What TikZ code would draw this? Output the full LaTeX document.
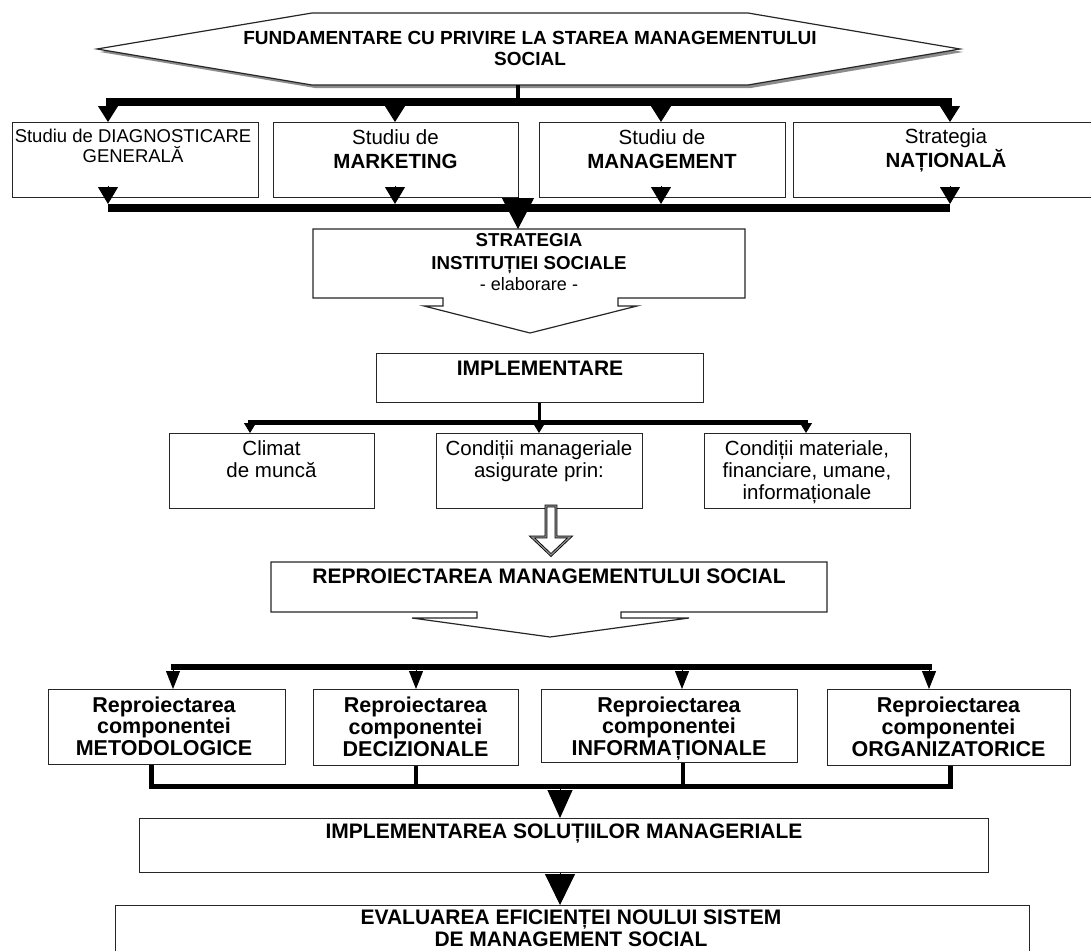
\documentclass[tikz,border=0pt]{standalone}
\usepackage{fontspec}
\setmainfont{Liberation Sans}
\usetikzlibrary{arrows.meta}
\begin{document}
\begin{tikzpicture}[x=1pt,y=-1pt,
  box/.style={draw=black!85,line width=1.2pt,fill=white,inner sep=0pt,anchor=north west},
  lbl/.style={inner sep=0pt,align=center,anchor=north},
  one/.style={inner sep=0pt,anchor=base},
  drop/.style 2 args={line width=1pt,-{Triangle[width=#1,length=#2]}},
  rail/.style={line width=#1,line cap=butt},
  outline/.style={draw=black!85,line width=1.2pt,fill=white,line join=miter},
]
\useasboundingbox (0,0) rectangle (1091,950);

% ---------- head: hexagon ----------
\fill[black!45] (100,52) -- (315,16) -- (751,16) -- (963,52) -- (751,88) -- (315,88) -- cycle;
\draw[outline] (97,49) -- (312,13) -- (748,13) -- (960,49) -- (748,85) -- (312,85) -- cycle;
\node[lbl,font=\bfseries\fontsize{19}{21}\selectfont] (fund) at (530,31)
  {FUNDAMENTARE CU PRIVIRE LA STAREA MANAGEMENTULUI\\SOCIAL};
\coordinate (fundS) at (518,85);
\coordinate (busA) at (518,102);
\coordinate (busL) at (106,102);
\coordinate (busR) at (952,102);

% ---------- row 1: studies ----------
\node[box,minimum width=246,minimum height=75] (b1) at (12,122) {};
\node[box,minimum width=245,minimum height=75] (b2) at (273,122) {};
\node[box,minimum width=246,minimum height=75] (b3) at (539,122) {};
\node[box,minimum width=306,minimum height=75] (b4) at (793,122) {};

\node[lbl,font=\fontsize{18.5}{20}\selectfont] (b1t) at (133,128.5)
  {Studiu de DIAGNOSTICARE\\GENERALĂ};
\node[lbl,font=\fontsize{20.5}{24.5}\selectfont] (b2t) at (395.5,129)
  {Studiu de\\\textbf{MARKETING}};
\node[lbl,font=\fontsize{20.5}{24.5}\selectfont] (b3t) at (662,129)
  {Studiu de\\\textbf{MANAGEMENT}};
\node[lbl,font=\fontsize{20.5}{24.5}\selectfont] (b4t) at (946,128)
  {Strategia\\\textbf{NAȚIONALĂ}};

\draw[rail=4pt] (fundS) -- (busA);
\draw[rail=8pt] (busL) -- (busR);
\foreach \x/\n in {108/b1,395/b2,661/b3,950/b4}{
  \coordinate (u\n) at (\x,102);
  \draw[drop={20pt}{16pt}] (u\n) -- (u\n |- \n.north);
}

% collecting rail under row 1
\coordinate (sumL) at (108,208);
\coordinate (sumR) at (950,208);
\draw[rail=8pt] (sumL) -- (sumR);
\foreach \x/\n in {108/b1,395/b2,661/b3,950/b4}{
  \coordinate (w\n) at (\x,186);
  \coordinate (v\n) at (\x,204);
  \draw[drop={20pt}{17pt}] (w\n) -- (v\n);
}

% ---------- strategy of the institution ----------
\draw[outline] (313,229) -- (745,229) -- (745,298) -- (618,298) -- (618,306) -- (637,306)
  -- (530,333) -- (424,306) -- (443,306) -- (443,298) -- (313,298) -- cycle;
\coordinate (stN) at (518,229);
\coordinate (sumM) at (518,197);
\draw[drop={32pt}{31pt}] (sumM) -- (stN);
\node[lbl,font=\bfseries\fontsize{18.7}{23}\selectfont] (st) at (529,233.5)
  {STRATEGIA\\INSTITUȚIEI SOCIALE};
\node[one,font=\fontsize{18}{20}\selectfont] (stel) at (529,290) {- elaborare -};

% ---------- implementation ----------
\node[box,minimum width=327,minimum height=49] (impl) at (376,353) {};
\node[one,font=\bfseries\fontsize{21}{24}\selectfont] (implt) at (540,375) {IMPLEMENTARE};

\node[box,minimum width=205,minimum height=75] (c1) at (169,433) {};
\node[box,minimum width=206,minimum height=75] (c2) at (436,433) {};
\node[box,minimum width=206,minimum height=75] (c3) at (704,433) {};
\node[lbl,font=\fontsize{20.5}{22}\selectfont] (c1t) at (271.5,440) {Climat\\de muncă};
\node[lbl,font=\fontsize{20.5}{22}\selectfont] (c2t) at (539,440) {Condiții manageriale\\asigurate prin:};
\node[lbl,font=\fontsize{20.5}{22}\selectfont] (c3t) at (807,440)
  {Condiții materiale,\\financiare, umane,\\informaționale};

\coordinate (ib) at (539,422);
\coordinate (ibL) at (248,422);
\coordinate (ibR) at (808,422);
\draw[rail=3pt] (impl.south -| ib) -- (ib);
\draw[rail=5pt] (ibL) -- (ibR);
\foreach \x/\n in {250/c1,539/c2,806/c3}{
  \coordinate (k\n) at (\x,422);
  \draw[drop={12pt}{10pt}] (k\n) -- (k\n |- \n.north);
}

% hollow block arrow
\draw[line width=0.8pt,double=black!45,double distance=1.3pt,fill=white,line join=miter]
  (546,506) -- (546,537) -- (532,537) -- (551,555) -- (570,537) -- (556,537) -- (556,506) -- cycle;

% ---------- redesign ----------
\draw[outline] (271,562) -- (827,562) -- (827,612) -- (621,612) -- (621,618) -- (689,618)
  -- (550,637) -- (412,618) -- (477,618) -- (477,612) -- (271,612) -- cycle;
\node[one,font=\bfseries\fontsize{21}{24}\selectfont] (rep) at (549,583)
  {REPROIECTAREA MANAGEMENTULUI SOCIAL};

\node[box,minimum width=237,minimum height=75] (d1) at (48,689) {};
\node[box,minimum width=205,minimum height=76] (d2) at (313,689) {};
\node[box,minimum width=256,minimum height=73] (d3) at (541,689) {};
\node[box,minimum width=243,minimum height=76] (d4) at (827,689) {};
\node[lbl,font=\bfseries\fontsize{21.5}{21.7}\selectfont] (d1t) at (164,696.5)
  {Reproiectarea\\componentei\\METODOLOGICE};
\node[lbl,font=\bfseries\fontsize{21.5}{21.7}\selectfont] (d2t) at (415.5,697)
  {Reproiectarea\\componentei\\DECIZIONALE};
\node[lbl,font=\bfseries\fontsize{21.5}{21.7}\selectfont] (d3t) at (669,696.5)
  {Reproiectarea\\componentei\\INFORMAȚIONALE};
\node[lbl,font=\bfseries\fontsize{21.5}{21.7}\selectfont] (d4t) at (948.5,697)
  {Reproiectarea\\componentei\\ORGANIZATORICE};

\coordinate (rbL) at (171,667);
\coordinate (rbR) at (932,667);
\draw[rail=6pt] (rbL) -- (rbR);
\foreach \x/\n in {173/d1,416/d2,682/d3,929/d4}{
  \coordinate (r\n) at (\x,667);
  \draw[drop={14pt}{18pt}] (r\n) -- (r\n |- \n.north);
}

% bracket collecting the four components
\coordinate (kL) at (151,786);
\coordinate (kR) at (950,786);
\draw[line width=5pt,line join=miter] (kL |- d1.south) -- (kL) -- (kR) -- (kR |- d4.south);
\foreach \x/\n in {416/d2,683/d3}{
  \coordinate (q\n) at (\x,786);
  \draw[rail=4.5pt] (q\n |- \n.south) -- (q\n);
}

% ---------- final steps ----------
\node[box,minimum width=849,minimum height=54] (sol) at (139,818) {};
\node[one,font=\bfseries\fontsize{21}{24}\selectfont] (solt) at (564,838)
  {IMPLEMENTAREA SOLUȚIILOR MANAGERIALE};
\node[box,minimum width=914,minimum height=70] (ev) at (115,905) {};
\node[lbl,font=\bfseries\fontsize{21}{22}\selectfont] (evt) at (571,910)
  {EVALUAREA EFICIENȚEI NOULUI SISTEM\\DE MANAGEMENT SOCIAL};

\coordinate (kM) at (560,788);
\draw[drop={25pt}{28pt}] (kM) -- (kM |- sol.north);
\draw[drop={30pt}{31pt}] (sol.south -| kM) -- (kM |- ev.north);
\end{tikzpicture}
\end{document}
